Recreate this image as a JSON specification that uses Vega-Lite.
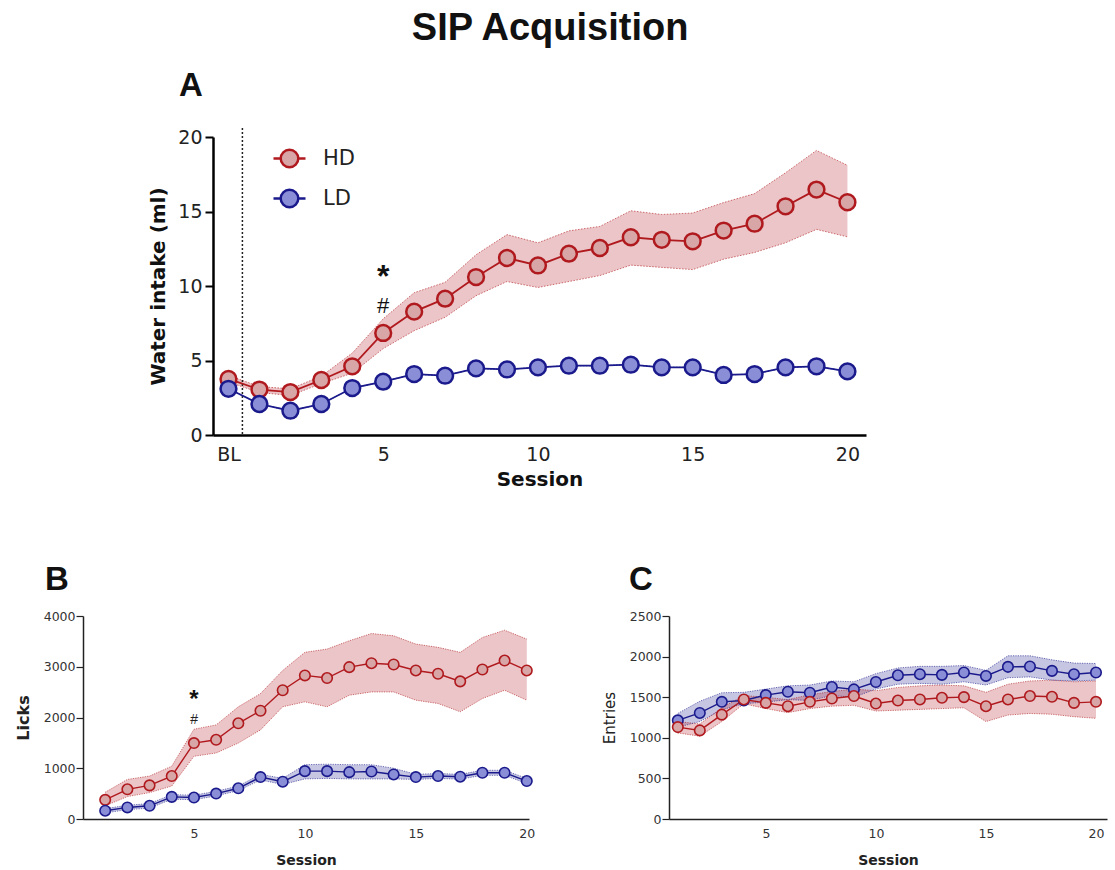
{
  "$schema": "https://vega.github.io/schema/vega-lite/v6.json",
  "padding": {"left": 15, "top": 10, "right": 2, "bottom": 2},
  "title": {"text": "SIP Acquisition", "font": "Liberation Sans", "fontSize": 38, "fontWeight": "bold", "color": "#111", "anchor": "middle", "dx": -11, "offset": 22},
  "spacing": 75,
  "resolve": {"legend": {"fill": "independent", "stroke": "independent", "color": "independent"}},
  "datasets": {
    "A": [
      {"session": 0, "group": "HD", "mean": 3.76, "lo": 3.55, "hi": 4.0},
      {"session": 1, "group": "HD", "mean": 3.05, "lo": 2.85, "hi": 3.25},
      {"session": 2, "group": "HD", "mean": 2.88, "lo": 2.65, "hi": 3.1},
      {"session": 3, "group": "HD", "mean": 3.69, "lo": 3.45, "hi": 3.95},
      {"session": 4, "group": "HD", "mean": 4.61, "lo": 4.15, "hi": 5.5},
      {"session": 5, "group": "HD", "mean": 6.85, "lo": 5.8, "hi": 7.8},
      {"session": 6, "group": "HD", "mean": 8.28, "lo": 7.0, "hi": 9.55},
      {"session": 7, "group": "HD", "mean": 9.15, "lo": 7.9, "hi": 10.25},
      {"session": 8, "group": "HD", "mean": 10.6, "lo": 9.35, "hi": 12.1},
      {"session": 9, "group": "HD", "mean": 11.88, "lo": 10.3, "hi": 13.45},
      {"session": 10, "group": "HD", "mean": 11.38, "lo": 9.9, "hi": 12.9},
      {"session": 11, "group": "HD", "mean": 12.17, "lo": 10.3, "hi": 13.7},
      {"session": 12, "group": "HD", "mean": 12.55, "lo": 10.7, "hi": 14.0},
      {"session": 13, "group": "HD", "mean": 13.27, "lo": 11.4, "hi": 15.05},
      {"session": 14, "group": "HD", "mean": 13.1, "lo": 11.25, "hi": 14.8},
      {"session": 15, "group": "HD", "mean": 13.0, "lo": 11.1, "hi": 14.9},
      {"session": 16, "group": "HD", "mean": 13.72, "lo": 11.8, "hi": 15.6},
      {"session": 17, "group": "HD", "mean": 14.18, "lo": 12.25, "hi": 16.2},
      {"session": 18, "group": "HD", "mean": 15.35, "lo": 12.9, "hi": 17.6},
      {"session": 19, "group": "HD", "mean": 16.47, "lo": 13.8, "hi": 19.1},
      {"session": 20, "group": "HD", "mean": 15.62, "lo": 13.3, "hi": 18.1},
      {"session": 0, "group": "LD", "mean": 3.1, "lo": 3.1, "hi": 3.1},
      {"session": 1, "group": "LD", "mean": 2.08, "lo": 2.08, "hi": 2.08},
      {"session": 2, "group": "LD", "mean": 1.63, "lo": 1.63, "hi": 1.63},
      {"session": 3, "group": "LD", "mean": 2.08, "lo": 2.08, "hi": 2.08},
      {"session": 4, "group": "LD", "mean": 3.15, "lo": 3.15, "hi": 3.15},
      {"session": 5, "group": "LD", "mean": 3.58, "lo": 3.58, "hi": 3.58},
      {"session": 6, "group": "LD", "mean": 4.09, "lo": 4.09, "hi": 4.09},
      {"session": 7, "group": "LD", "mean": 3.98, "lo": 3.98, "hi": 3.98},
      {"session": 8, "group": "LD", "mean": 4.47, "lo": 4.47, "hi": 4.47},
      {"session": 9, "group": "LD", "mean": 4.4, "lo": 4.4, "hi": 4.4},
      {"session": 10, "group": "LD", "mean": 4.54, "lo": 4.54, "hi": 4.54},
      {"session": 11, "group": "LD", "mean": 4.65, "lo": 4.65, "hi": 4.65},
      {"session": 12, "group": "LD", "mean": 4.65, "lo": 4.65, "hi": 4.65},
      {"session": 13, "group": "LD", "mean": 4.72, "lo": 4.72, "hi": 4.72},
      {"session": 14, "group": "LD", "mean": 4.54, "lo": 4.54, "hi": 4.54},
      {"session": 15, "group": "LD", "mean": 4.54, "lo": 4.54, "hi": 4.54},
      {"session": 16, "group": "LD", "mean": 4.03, "lo": 4.03, "hi": 4.03},
      {"session": 17, "group": "LD", "mean": 4.09, "lo": 4.09, "hi": 4.09},
      {"session": 18, "group": "LD", "mean": 4.54, "lo": 4.54, "hi": 4.54},
      {"session": 19, "group": "LD", "mean": 4.61, "lo": 4.61, "hi": 4.61},
      {"session": 20, "group": "LD", "mean": 4.27, "lo": 4.27, "hi": 4.27}
    ],
    "B": [
      {"session": 1, "group": "HD", "mean": 377, "lo": 260, "hi": 527},
      {"session": 2, "group": "HD", "mean": 585, "lo": 442, "hi": 780},
      {"session": 3, "group": "HD", "mean": 663, "lo": 520, "hi": 846},
      {"session": 4, "group": "HD", "mean": 846, "lo": 650, "hi": 1040},
      {"session": 5, "group": "HD", "mean": 1496, "lo": 1236, "hi": 1769},
      {"session": 6, "group": "HD", "mean": 1561, "lo": 1301, "hi": 1854},
      {"session": 7, "group": "HD", "mean": 1886, "lo": 1496, "hi": 2211},
      {"session": 8, "group": "HD", "mean": 2133, "lo": 1756, "hi": 2471},
      {"session": 9, "group": "HD", "mean": 2537, "lo": 2211, "hi": 2927},
      {"session": 10, "group": "HD", "mean": 2829, "lo": 2309, "hi": 3284},
      {"session": 11, "group": "HD", "mean": 2777, "lo": 2211, "hi": 3349},
      {"session": 12, "group": "HD", "mean": 2992, "lo": 2439, "hi": 3512},
      {"session": 13, "group": "HD", "mean": 3070, "lo": 2504, "hi": 3655},
      {"session": 14, "group": "HD", "mean": 3044, "lo": 2504, "hi": 3610},
      {"session": 15, "group": "HD", "mean": 2927, "lo": 2341, "hi": 3447},
      {"session": 16, "group": "HD", "mean": 2862, "lo": 2276, "hi": 3382},
      {"session": 17, "group": "HD", "mean": 2712, "lo": 2113, "hi": 3284},
      {"session": 18, "group": "HD", "mean": 2946, "lo": 2374, "hi": 3577},
      {"session": 19, "group": "HD", "mean": 3122, "lo": 2537, "hi": 3720},
      {"session": 20, "group": "HD", "mean": 2927, "lo": 2341, "hi": 3545},
      {"session": 1, "group": "LD", "mean": 163, "lo": 120, "hi": 205},
      {"session": 2, "group": "LD", "mean": 228, "lo": 185, "hi": 270},
      {"session": 3, "group": "LD", "mean": 260, "lo": 215, "hi": 305},
      {"session": 4, "group": "LD", "mean": 436, "lo": 390, "hi": 480},
      {"session": 5, "group": "LD", "mean": 423, "lo": 380, "hi": 470},
      {"session": 6, "group": "LD", "mean": 501, "lo": 455, "hi": 545},
      {"session": 7, "group": "LD", "mean": 605, "lo": 560, "hi": 650},
      {"session": 8, "group": "LD", "mean": 826, "lo": 770, "hi": 880},
      {"session": 9, "group": "LD", "mean": 735, "lo": 680, "hi": 800},
      {"session": 10, "group": "LD", "mean": 943, "lo": 790, "hi": 1070},
      {"session": 11, "group": "LD", "mean": 943, "lo": 800, "hi": 1080},
      {"session": 12, "group": "LD", "mean": 923, "lo": 790, "hi": 1070},
      {"session": 13, "group": "LD", "mean": 936, "lo": 790, "hi": 1070},
      {"session": 14, "group": "LD", "mean": 878, "lo": 790, "hi": 1000},
      {"session": 15, "group": "LD", "mean": 826, "lo": 780, "hi": 880},
      {"session": 16, "group": "LD", "mean": 846, "lo": 800, "hi": 895},
      {"session": 17, "group": "LD", "mean": 833, "lo": 785, "hi": 880},
      {"session": 18, "group": "LD", "mean": 911, "lo": 860, "hi": 960},
      {"session": 19, "group": "LD", "mean": 911, "lo": 860, "hi": 960},
      {"session": 20, "group": "LD", "mean": 748, "lo": 700, "hi": 800}
    ],
    "C": [
      {"session": 1, "group": "LD", "mean": 1215, "lo": 1130, "hi": 1300},
      {"session": 2, "group": "LD", "mean": 1306, "lo": 1200, "hi": 1450},
      {"session": 3, "group": "LD", "mean": 1443, "lo": 1345, "hi": 1555},
      {"session": 4, "group": "LD", "mean": 1460, "lo": 1420, "hi": 1560},
      {"session": 5, "group": "LD", "mean": 1526, "lo": 1440, "hi": 1600},
      {"session": 6, "group": "LD", "mean": 1567, "lo": 1470, "hi": 1640},
      {"session": 7, "group": "LD", "mean": 1555, "lo": 1460, "hi": 1650},
      {"session": 8, "group": "LD", "mean": 1625, "lo": 1520, "hi": 1700},
      {"session": 9, "group": "LD", "mean": 1596, "lo": 1500, "hi": 1690},
      {"session": 10, "group": "LD", "mean": 1687, "lo": 1600, "hi": 1790},
      {"session": 11, "group": "LD", "mean": 1770, "lo": 1660, "hi": 1860},
      {"session": 12, "group": "LD", "mean": 1783, "lo": 1670, "hi": 1880},
      {"session": 13, "group": "LD", "mean": 1775, "lo": 1660, "hi": 1880},
      {"session": 14, "group": "LD", "mean": 1804, "lo": 1690, "hi": 1890},
      {"session": 15, "group": "LD", "mean": 1762, "lo": 1650, "hi": 1830},
      {"session": 16, "group": "LD", "mean": 1874, "lo": 1740, "hi": 2010},
      {"session": 17, "group": "LD", "mean": 1878, "lo": 1750, "hi": 2010},
      {"session": 18, "group": "LD", "mean": 1824, "lo": 1710, "hi": 1960},
      {"session": 19, "group": "LD", "mean": 1783, "lo": 1700, "hi": 1920},
      {"session": 20, "group": "LD", "mean": 1804, "lo": 1710, "hi": 1915},
      {"session": 1, "group": "HD", "mean": 1132, "lo": 1060, "hi": 1200},
      {"session": 2, "group": "HD", "mean": 1091, "lo": 1020, "hi": 1170},
      {"session": 3, "group": "HD", "mean": 1285, "lo": 1200, "hi": 1370},
      {"session": 4, "group": "HD", "mean": 1472, "lo": 1420, "hi": 1520},
      {"session": 5, "group": "HD", "mean": 1430, "lo": 1360, "hi": 1500},
      {"session": 6, "group": "HD", "mean": 1389, "lo": 1310, "hi": 1470},
      {"session": 7, "group": "HD", "mean": 1443, "lo": 1360, "hi": 1530},
      {"session": 8, "group": "HD", "mean": 1484, "lo": 1390, "hi": 1570},
      {"session": 9, "group": "HD", "mean": 1514, "lo": 1400, "hi": 1600},
      {"session": 10, "group": "HD", "mean": 1422, "lo": 1330, "hi": 1580},
      {"session": 11, "group": "HD", "mean": 1459, "lo": 1340, "hi": 1620},
      {"session": 12, "group": "HD", "mean": 1472, "lo": 1350, "hi": 1640},
      {"session": 13, "group": "HD", "mean": 1493, "lo": 1360, "hi": 1650},
      {"session": 14, "group": "HD", "mean": 1501, "lo": 1370, "hi": 1640},
      {"session": 15, "group": "HD", "mean": 1389, "lo": 1200, "hi": 1560},
      {"session": 16, "group": "HD", "mean": 1472, "lo": 1280, "hi": 1660},
      {"session": 17, "group": "HD", "mean": 1514, "lo": 1300, "hi": 1700},
      {"session": 18, "group": "HD", "mean": 1505, "lo": 1290, "hi": 1710},
      {"session": 19, "group": "HD", "mean": 1430, "lo": 1260, "hi": 1690},
      {"session": 20, "group": "HD", "mean": 1443, "lo": 1240, "hi": 1700}
    ],
    "blA": [{"session": 0.45}],
    "starA": [{"session": 5, "value": 9.9, "label": "*"}],
    "hashA": [{"session": 5, "value": 8.2, "label": "#"}],
    "starB": [{"session": 5, "value": 2200, "label": "*"}],
    "hashB": [{"session": 5, "value": 1880, "label": "#"}]
  },
  "vconcat": [
    {
      "width": 783,
      "height": 298,
      "title": {"text": "A", "anchor": "start", "frame": "group", "dx": 96, "font": "Liberation Sans", "fontSize": 33, "fontWeight": "bold", "color": "#111", "offset": 24},
      "encoding": {
        "x": {"field": "session", "type": "quantitative",
          "scale": {"domain": [-0.5, 20.6], "range": [130, 783], "nice": false, "zero": false},
          "axis": {"values": [0, 5, 10, 15, 20], "labelExpr": "datum.value == 0 ? 'BL' : datum.label", "ticks": false, "grid": false, "domainColor": "#000", "domainWidth": 2.5, "labelFont": "DejaVu Sans", "labelFontSize": 19, "labelColor": "#222", "labelPadding": 10, "title": "Session", "titleFont": "DejaVu Sans", "titleFontSize": 20, "titleFontWeight": "bold", "titleColor": "#111", "titlePadding": 5}}
      },
      "layer": [
        {
          "data": {"name": "A"},
          "mark": {"type": "area", "opacity": 0.25},
          "encoding": {
            "y": {"field": "lo", "type": "quantitative", "scale": {"domain": [0, 20], "nice": false},
              "axis": {"values": [0, 5, 10, 15, 20], "offset": -130, "grid": false, "domainColor": "#000", "domainWidth": 2.5, "tickColor": "#000", "tickWidth": 2, "tickSize": 8, "labelFont": "DejaVu Sans", "labelFontSize": 19, "labelColor": "#222", "labelPadding": 3, "title": "Water intake (ml)", "titleFont": "DejaVu Sans", "titleFontSize": 20, "titleFontWeight": "bold", "titleColor": "#111", "titlePadding": 9}},
            "y2": {"field": "hi"},
            "color": {"field": "group", "type": "nominal", "scale": {"domain": ["LD", "HD"], "range": ["#1A1A8C", "#B0191E"]}, "legend": null}
          }
        },
        {
          "data": {"name": "A"},
          "mark": {"type": "line", "strokeDash": [1.5, 1.5], "strokeWidth": 1, "opacity": 0.6},
          "encoding": {"y": {"field": "hi", "type": "quantitative"}, "color": {"field": "group", "type": "nominal", "legend": null}}
        },
        {
          "data": {"name": "A"},
          "mark": {"type": "line", "strokeDash": [1.5, 1.5], "strokeWidth": 1, "opacity": 0.6},
          "encoding": {"y": {"field": "lo", "type": "quantitative"}, "color": {"field": "group", "type": "nominal", "legend": null}}
        },
        {
          "data": {"name": "blA"},
          "mark": {"type": "rule", "color": "#222", "strokeDash": [2, 2], "strokeWidth": 1.5, "clip": false},
          "encoding": {"y": {"datum": 20.6, "type": "quantitative"}, "y2": {"datum": 0}}
        },
        {
          "data": {"name": "A"},
          "mark": {"type": "line", "strokeWidth": 1.8},
          "encoding": {"y": {"field": "mean", "type": "quantitative"}, "color": {"field": "group", "type": "nominal", "legend": null}}
        },
        {
          "data": {"name": "A"},
          "mark": {"type": "point", "filled": true, "size": 250, "strokeWidth": 2.5, "opacity": 1},
          "encoding": {
            "y": {"field": "mean", "type": "quantitative"},
            "fill": {"field": "group", "type": "nominal", "scale": {"domain": ["HD", "LD"], "range": ["#D8A6A6", "#8A8ED6"]},
              "legend": {"title": null, "orient": "none", "legendX": 189, "legendY": 4, "symbolType": "M-1,0L-0.55,0M0.55,0L1,0M0.55,0A0.55,0.55,0,1,1,-0.55,0A0.55,0.55,0,1,1,0.55,0Z", "symbolSize": 1024, "symbolStrokeWidth": 2.5, "labelFont": "DejaVu Sans", "labelFontSize": 21, "labelColor": "#222", "labelOffset": 16, "rowPadding": 8}},
            "stroke": {"field": "group", "type": "nominal", "scale": {"domain": ["HD", "LD"], "range": ["#B0191E", "#1A1A8C"]},
              "legend": {"title": null, "orient": "none", "legendX": 189, "legendY": 4, "symbolType": "M-1,0L-0.55,0M0.55,0L1,0M0.55,0A0.55,0.55,0,1,1,-0.55,0A0.55,0.55,0,1,1,0.55,0Z", "symbolSize": 1024, "symbolStrokeWidth": 2.5, "labelFont": "DejaVu Sans", "labelFontSize": 21, "labelColor": "#222", "labelOffset": 16, "rowPadding": 8}}
          }
        },
        {
          "data": {"name": "starA"},
          "mark": {"type": "text", "font": "Liberation Sans", "fontSize": 32, "fontWeight": "bold", "baseline": "alphabetic", "color": "#111"},
          "encoding": {"y": {"field": "value", "type": "quantitative"}, "text": {"field": "label"}}
        },
        {
          "data": {"name": "hashA"},
          "mark": {"type": "text", "font": "Liberation Sans", "fontSize": 22, "baseline": "alphabetic", "color": "#111"},
          "encoding": {"y": {"field": "value", "type": "quantitative"}, "text": {"field": "label"}}
        }
      ]
    },
    {
      "spacing": 66,
      "hconcat": [
        {
          "width": 446,
          "height": 203,
          "title": {"text": "B", "anchor": "start", "frame": "group", "dx": -38, "font": "Liberation Sans", "fontSize": 33, "fontWeight": "bold", "color": "#111", "offset": 13},
          "encoding": {
            "x": {"field": "session", "type": "quantitative",
              "scale": {"domain": [0, 20.1], "nice": false, "zero": false},
              "axis": {"values": [5, 10, 15, 20], "ticks": false, "grid": false, "domainColor": "#222", "domainWidth": 1.5, "labelFont": "DejaVu Sans", "labelFontSize": 12.5, "labelColor": "#333", "labelPadding": 8, "title": "Session", "titleFont": "DejaVu Sans", "titleFontSize": 14, "titleFontWeight": "bold", "titleColor": "#222", "titlePadding": 14}}
          },
          "layer": [
            {
              "data": {"name": "B"},
              "mark": {"type": "area", "opacity": 0.25},
              "encoding": {
                "y": {"field": "lo", "type": "quantitative", "scale": {"domain": [0, 4000], "nice": false},
                  "axis": {"values": [0, 1000, 2000, 3000, 4000], "format": "d", "grid": false, "domainColor": "#222", "domainWidth": 1.5, "tickColor": "#222", "tickWidth": 1.2, "tickSize": 7, "labelFont": "DejaVu Sans", "labelFontSize": 12.5, "labelColor": "#333", "labelPadding": 1, "title": "Licks", "titleFont": "DejaVu Sans", "titleFontSize": 16, "titleFontWeight": "bold", "titleColor": "#222", "titlePadding": 12}},
                "y2": {"field": "hi"},
                "color": {"field": "group", "type": "nominal", "scale": {"domain": ["LD", "HD"], "range": ["#1A1A8C", "#B0191E"]}, "legend": null}
              }
            },
            {
              "data": {"name": "B"},
              "mark": {"type": "line", "strokeDash": [1.2, 1.2], "strokeWidth": 1, "opacity": 0.6},
              "encoding": {"y": {"field": "hi", "type": "quantitative"}, "color": {"field": "group", "type": "nominal", "legend": null}}
            },
            {
              "data": {"name": "B"},
              "mark": {"type": "line", "strokeDash": [1.2, 1.2], "strokeWidth": 1, "opacity": 0.6},
              "encoding": {"y": {"field": "lo", "type": "quantitative"}, "color": {"field": "group", "type": "nominal", "legend": null}}
            },
            {
              "data": {"name": "B"},
              "mark": {"type": "line", "strokeWidth": 1.4},
              "encoding": {"y": {"field": "mean", "type": "quantitative"}, "color": {"field": "group", "type": "nominal", "legend": null}}
            },
            {
              "data": {"name": "B"},
              "mark": {"type": "point", "filled": true, "size": 110, "strokeWidth": 1.6, "opacity": 1},
              "encoding": {
                "y": {"field": "mean", "type": "quantitative"},
                "fill": {"field": "group", "type": "nominal", "scale": {"domain": ["HD", "LD"], "range": ["#D8A6A6", "#8A8ED6"]}, "legend": null},
                "stroke": {"field": "group", "type": "nominal", "scale": {"domain": ["HD", "LD"], "range": ["#B0191E", "#1A1A8C"]}, "legend": null}
              }
            },
            {
              "data": {"name": "starB"},
              "mark": {"type": "text", "font": "Liberation Sans", "fontSize": 24, "fontWeight": "bold", "baseline": "alphabetic", "color": "#111"},
              "encoding": {"y": {"field": "value", "type": "quantitative"}, "text": {"field": "label"}}
            },
            {
              "data": {"name": "hashB"},
              "mark": {"type": "text", "font": "Liberation Sans", "fontSize": 14, "fontStyle": "italic", "baseline": "alphabetic", "color": "#222"},
              "encoding": {"y": {"field": "value", "type": "quantitative"}, "text": {"field": "label"}}
            }
          ]
        },
        {
          "width": 438,
          "height": 203,
          "title": {"text": "C", "anchor": "start", "frame": "group", "dx": -40, "font": "Liberation Sans", "fontSize": 33, "fontWeight": "bold", "color": "#111", "offset": 13},
          "encoding": {
            "x": {"field": "session", "type": "quantitative",
              "scale": {"domain": [0.6, 20.5], "nice": false, "zero": false},
              "axis": {"values": [5, 10, 15, 20], "ticks": false, "grid": false, "domainColor": "#222", "domainWidth": 1.5, "labelFont": "DejaVu Sans", "labelFontSize": 12.5, "labelColor": "#333", "labelPadding": 8, "title": "Session", "titleFont": "DejaVu Sans", "titleFontSize": 14, "titleFontWeight": "bold", "titleColor": "#222", "titlePadding": 14}}
          },
          "layer": [
            {
              "data": {"name": "C"},
              "mark": {"type": "area", "opacity": 0.25},
              "encoding": {
                "y": {"field": "lo", "type": "quantitative", "scale": {"domain": [0, 2500], "nice": false},
                  "axis": {"values": [0, 500, 1000, 1500, 2000, 2500], "format": "d", "grid": false, "domainColor": "#222", "domainWidth": 1.5, "tickColor": "#222", "tickWidth": 1.2, "tickSize": 7, "labelFont": "DejaVu Sans", "labelFontSize": 12.5, "labelColor": "#333", "labelPadding": 1, "title": "Entries", "titleFont": "DejaVu Sans", "titleFontSize": 15, "titleFontWeight": "normal", "titleColor": "#222", "titlePadding": 12}},
                "y2": {"field": "hi"},
                "color": {"field": "group", "type": "nominal", "scale": {"domain": ["LD", "HD"], "range": ["#1A1A8C", "#B0191E"]}, "legend": null}
              }
            },
            {
              "data": {"name": "C"},
              "mark": {"type": "line", "strokeDash": [1.2, 1.2], "strokeWidth": 1, "opacity": 0.6},
              "encoding": {"y": {"field": "hi", "type": "quantitative"}, "color": {"field": "group", "type": "nominal", "legend": null}}
            },
            {
              "data": {"name": "C"},
              "mark": {"type": "line", "strokeDash": [1.2, 1.2], "strokeWidth": 1, "opacity": 0.6},
              "encoding": {"y": {"field": "lo", "type": "quantitative"}, "color": {"field": "group", "type": "nominal", "legend": null}}
            },
            {
              "data": {"name": "C"},
              "mark": {"type": "line", "strokeWidth": 1.4},
              "encoding": {"y": {"field": "mean", "type": "quantitative"}, "color": {"field": "group", "type": "nominal", "legend": null}}
            },
            {
              "data": {"name": "C"},
              "mark": {"type": "point", "filled": true, "size": 110, "strokeWidth": 1.6, "opacity": 1},
              "encoding": {
                "y": {"field": "mean", "type": "quantitative"},
                "fill": {"field": "group", "type": "nominal", "scale": {"domain": ["HD", "LD"], "range": ["#D8A6A6", "#8A8ED6"]}, "legend": null},
                "stroke": {"field": "group", "type": "nominal", "scale": {"domain": ["HD", "LD"], "range": ["#B0191E", "#1A1A8C"]}, "legend": null}
              }
            }
          ]
        }
      ]
    }
  ],
  "config": {
    "view": {"stroke": null},
    "axis": {"grid": false}
  }
}
